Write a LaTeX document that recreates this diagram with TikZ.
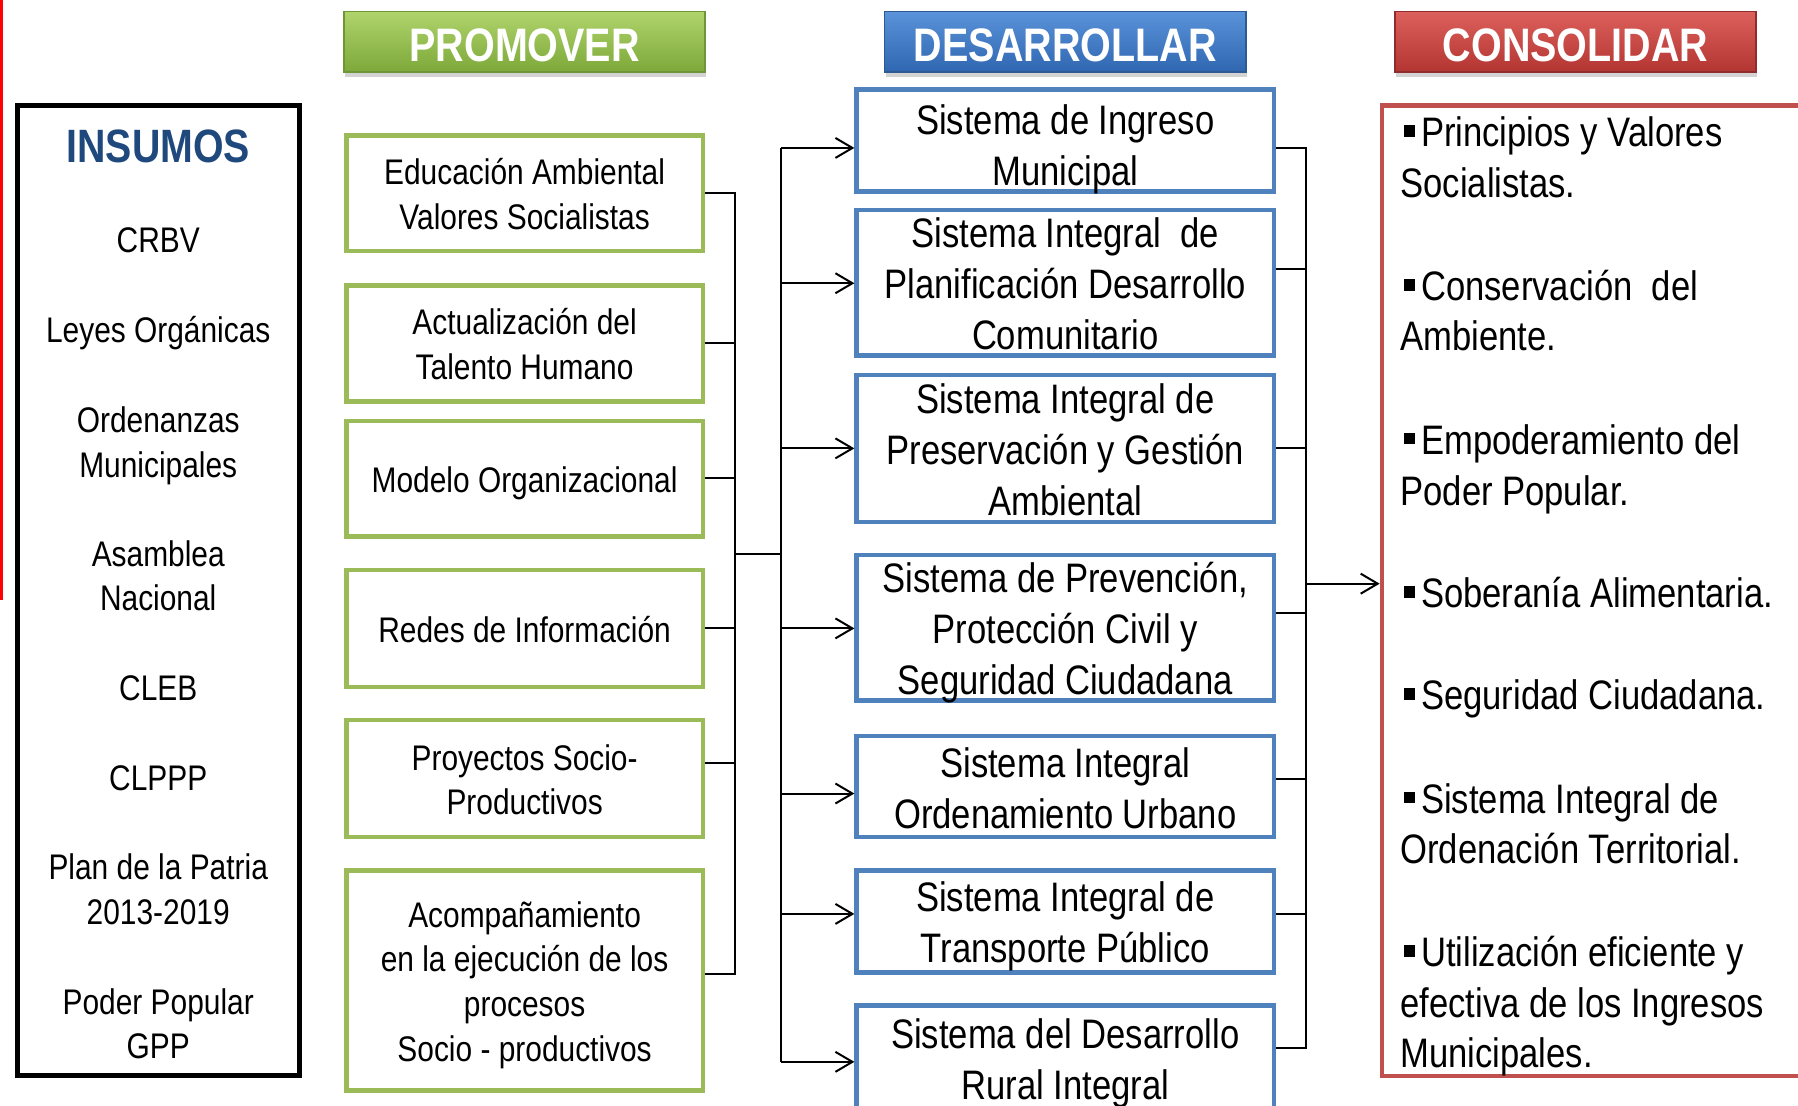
\documentclass[tikz,border=0pt]{standalone}
\usepackage{fontspec}
\setmainfont[FakeStretch=0.84]{Liberation Sans}
\usetikzlibrary{arrows.meta,shadows}
\definecolor{gbd}{HTML}{9BBB59}
\definecolor{bbd}{HTML}{4F81BD}
\definecolor{rbd}{HTML}{C0504D}
\definecolor{tblue}{HTML}{1F497D}
\definecolor{gtop}{HTML}{AFD46C}
\definecolor{gbot}{HTML}{7DA839}
\definecolor{gdk}{HTML}{6E9636}
\definecolor{btop}{HTML}{5A93DA}
\definecolor{bbot}{HTML}{2F66B0}
\definecolor{bdk}{HTML}{2E5A94}
\definecolor{rtop}{HTML}{DC605C}
\definecolor{rbot}{HTML}{B33532}
\definecolor{rdk}{HTML}{8E2E2C}
\def\px{*0.5734pt}
\newcommand\bul{\hspace{0.08em}\rule[0.24em]{0.28em}{0.28em}\hspace{0.14em}}
\newcommand\topst[1][1.05em]{\rule{0pt}{#1}}
\begin{document}
\begin{tikzpicture}[x=0.5734pt,y=-0.5734pt,
  conn/.style={line width=1pt,black},
  arr/.style={conn,-{Straight Barb[length=8.5pt,width=10pt]}},
  botst/.style={execute at end node={\rule[-0.27em]{0pt}{0.27em}}},
  gbox/.style={draw=gbd,line width=2.2pt,minimum width=311\px,align=center,
    font=\fontsize{17.8}{22.4}\selectfont,inner xsep=0pt,inner ysep=-8pt,botst},
  bbox/.style={draw=bbd,line width=2.2pt,minimum width=364\px,align=center,
    font=\fontsize{20.6}{25.5}\selectfont,inner xsep=0pt,inner ysep=-8pt,botst},
  banner/.style={minimum width=315\px,minimum height=53\px,line width=0.8pt,
    text=white,font=\fontsize{23.5}{28}\selectfont\bfseries,
    execute at begin node={\rule{0pt}{0.84em}},
    drop shadow={shadow xshift=0.6pt,shadow yshift=-2.5pt,opacity=0.35}},
  ins/.style={font=\fontsize{17.8}{22.4}\selectfont,anchor=base,inner sep=0pt},
  ctxt/.style={font=\fontsize{20.6}{25.5}\selectfont,anchor=base west,inner sep=0pt},
]
\useasboundingbox (0,0) rectangle (1568,964);
\clip (0,0) rectangle (1568,964);

% left red line
\draw[red,line width=1.5pt] (1,0) -- (1,523);

% banners
\node[banner,draw=gdk,top color=gtop,bottom color=gbot] (pb) at (457.5,36.5) {PROMOVER};
\node[banner,draw=bdk,top color=btop,bottom color=bbot] (db) at (929,36.5) {DESARROLLAR};
\node[banner,draw=rdk,top color=rtop,bottom color=rbot] (cb) at (1374,36.5) {CONSOLIDAR};

% INSUMOS
\node[draw=black,line width=2.5pt,minimum width=246\px,minimum height=846\px,inner sep=0pt] (ins) at (138,515) {};
\node[font=\fontsize{23.4}{28}\selectfont\bfseries,text=tblue,anchor=base,inner sep=0pt] (tit) at (138,142) {INSUMOS};
\node[ins] (i1) at (138,220) {CRBV};
\node[ins] (i2) at (138,299) {Leyes Orgánicas};
\node[ins] (i3) at (138,377) {Ordenanzas};
\node[ins] (i4) at (138,416) {Municipales};
\node[ins] (i5) at (138,494) {Asamblea};
\node[ins] (i6) at (138,532) {Nacional};
\node[ins] (i7) at (138,611) {CLEB};
\node[ins] (i8) at (138,689) {CLPPP};
\node[ins] (i9) at (138,767) {Plan de la Patria};
\node[ins] (i10) at (138,806) {2013-2019};
\node[ins] (i11) at (138,885) {Poder Popular};
\node[ins] (i12) at (138,923) {GPP};

% green boxes
\node[gbox,minimum height=101\px] (g1) at (457.5,168.5) {\topst Educación Ambiental\\Valores Socialistas};
\node[gbox,minimum height=101\px] (g2) at (457.5,299.5) {\topst Actualización del\\Talento Humano};
\node[gbox,minimum height=101\px] (g3) at (457.5,417.5) {\topst Modelo Organizacional};
\node[gbox,minimum height=102\px] (g4) at (457.5,548) {\topst Redes de Información};
\node[gbox,minimum height=102\px] (g5) at (457.5,679) {\topst Proyectos Socio-\\Productivos};
\node[gbox,minimum height=192\px] (g6) at (457.5,855) {\topst Acompañamiento\\en la ejecución de los\\procesos\\Socio - productivos};

% blue boxes
\node[bbox,minimum height=89\px] (b1) at (929,122.5) {\topst[1.24em]Sistema de Ingreso\\Municipal};
\node[bbox,minimum height=127\px] (b2) at (929,246.5) {\topst Sistema Integral\ \ de\\Planificación Desarrollo\\Comunitario};
\node[bbox,minimum height=128\px] (b3) at (929,391) {\topst Sistema Integral de\\Preservación y Gestión\\Ambiental};
\node[bbox,minimum height=127\px] (b4) at (929,547.5) {\topst Sistema de Prevención,\\Protección Civil y\\Seguridad Ciudadana};
\node[bbox,minimum height=88\px] (b5) at (929,686) {\topst Sistema Integral\\Ordenamiento Urbano};
\node[bbox,minimum height=89\px] (b6) at (929,803.5) {\topst Sistema Integral de\\Transporte Público};
\node[bbox,minimum height=91\px] (b7) at (929,922.5) {\topst Sistema del Desarrollo\\Rural Integral};

% red box
\node[draw=rbd,line width=2.1pt,minimum width=495\px,minimum height=846\px,inner sep=0pt] (con) at (1452.5,515) {};
\node[ctxt] (c1) at (1221,128) {\bul Principios y Valores};
\node[ctxt] (c2) at (1221,172) {Socialistas.};
\node[ctxt] (c3) at (1221,262) {\bul Conservación\ \ del};
\node[ctxt] (c4) at (1221,306) {Ambiente.};
\node[ctxt] (c5) at (1221,396) {\bul Empoderamiento del};
\node[ctxt] (c6) at (1221,441) {Poder Popular.};
\node[ctxt] (c7) at (1221,530) {\bul Soberanía Alimentaria.};
\node[ctxt] (c8) at (1221,619) {\bul Seguridad Ciudadana.};
\node[ctxt] (c9) at (1221,709) {\bul Sistema Integral de};
\node[ctxt] (c10) at (1221,753) {Ordenación Territorial.};
\node[ctxt] (c11) at (1221,843) {\bul Utilización eficiente y};
\node[ctxt] (c12) at (1221,887) {efectiva de los Ingresos};
\node[ctxt] (c13) at (1221,931) {Municipales.};

% connector coordinates
\coordinate (G1) at (641,168);
\coordinate (G2) at (641,299);
\coordinate (G3) at (641,417);
\coordinate (G4) at (641,548);
\coordinate (G5) at (641,665);
\coordinate (G6) at (641,849);
\coordinate (GM) at (641,483);
\coordinate (AM) at (681,483);
\coordinate (A1) at (681,129);
\coordinate (A2) at (681,247);
\coordinate (A3) at (681,391);
\coordinate (A4) at (681,548);
\coordinate (A5) at (681,692);
\coordinate (A6) at (681,797);
\coordinate (A7) at (681,926);
\coordinate (R1) at (1139,129);
\coordinate (R2) at (1139,235);
\coordinate (R3) at (1139,391);
\coordinate (R4) at (1139,535);
\coordinate (R5) at (1139,679);
\coordinate (R6) at (1139,797);
\coordinate (R7) at (1139,914);
\coordinate (RM) at (1139,509);

% green side
\draw[conn] (g1.east |- G1) -- (G1) -- (G6) -- (g6.east |- G6);
\draw[conn] (g2.east |- G2) -- (G2);
\draw[conn] (g3.east |- G3) -- (G3);
\draw[conn] (g4.east |- G4) -- (G4);
\draw[conn] (g5.east |- G5) -- (G5);
\draw[conn] (GM) -- (AM);
% arrow spine
\draw[conn] (A1) -- (A7);
\draw[arr] (A1) -- (b1.west |- A1);
\draw[arr] (A2) -- (b2.west |- A2);
\draw[arr] (A3) -- (b3.west |- A3);
\draw[arr] (A4) -- (b4.west |- A4);
\draw[arr] (A5) -- (b5.west |- A5);
\draw[arr] (A6) -- (b6.west |- A6);
\draw[arr] (A7) -- (b7.west |- A7);
% right side
\draw[conn] (b1.east |- R1) -- (R1) -- (R7) -- (b7.east |- R7);
\draw[conn] (b2.east |- R2) -- (R2);
\draw[conn] (b3.east |- R3) -- (R3);
\draw[conn] (b4.east |- R4) -- (R4);
\draw[conn] (b5.east |- R5) -- (R5);
\draw[conn] (b6.east |- R6) -- (R6);
\draw[arr] (RM) -- (con.west |- RM);
\end{tikzpicture}
\end{document}
